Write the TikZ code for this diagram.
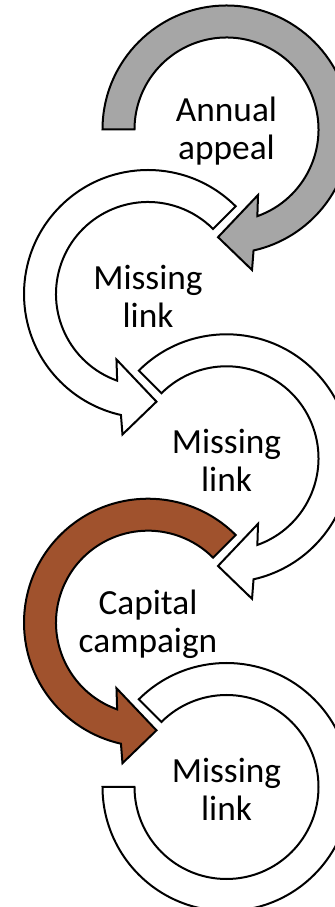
\documentclass[tikz,border=0pt]{standalone}
\usepackage{fontspec}
\setmainfont{Carlito}
\definecolor{appealgray}{HTML}{A6A6A6}
\definecolor{campaignbrown}{HTML}{A0522D}

% ring arrow around the origin: #1 = start angle, #2 = style
\newcommand{\ringarrow}[2]{%
  \draw[#2] (#1:124) arc[start angle=#1, end angle=-77.4, radius=124]
    -- (-79.7:142.8) -- (-94.5:108) -- (-64.3:72.7) -- (-70.4:92)
    arc[start angle=-70.4, end angle=#1, radius=92] -- cycle;}

\begin{document}
\begin{tikzpicture}[x=0.75pt, y=0.75pt,
    band/.style={draw=black, line width=1.5pt, fill=white},
    ringtext/.style={align=center, inner sep=0pt, font=\fontsize{26.5}{28.5}\selectfont}]
    \useasboundingbox (0,0) rectangle (335,907);
    \clip (0,0) rectangle (335,907);

    % Annual appeal
    \begin{scope}[shift={(226.5,777.5)}]
        \ringarrow{180}{band, fill=appealgray}
    \end{scope}
    \node[ringtext] (annual) at (226.5,775.5) {Annual\\appeal};

    % first missing link
    \begin{scope}[shift={(148,613)}, xscale=-1]
        \ringarrow{135}{band}
    \end{scope}
    \node[ringtext] (link1) at (148,611) {Missing\\link};

    % second missing link
    \begin{scope}[shift={(226.5,448.7)}]
        \ringarrow{135}{band}
    \end{scope}
    \node[ringtext] (link2) at (226.5,446.7) {Missing\\link};

    % Capital campaign
    \begin{scope}[shift={(148,284.3)}, xscale=-1]
        \ringarrow{135}{band, fill=campaignbrown}
    \end{scope}
    \node[ringtext] (capital) at (148,282.3) {Capital\\campaign};

    % last missing link, no head
    \begin{scope}[shift={(226.5,120)}]
        \draw[band] (135:124) arc[start angle=135, end angle=-180, radius=124]
            -- (180:92) arc[start angle=-180, end angle=135, radius=92] -- cycle;
    \end{scope}
    \node[ringtext] (link3) at (226.5,118) {Missing\\link};
\end{tikzpicture}
\end{document}
